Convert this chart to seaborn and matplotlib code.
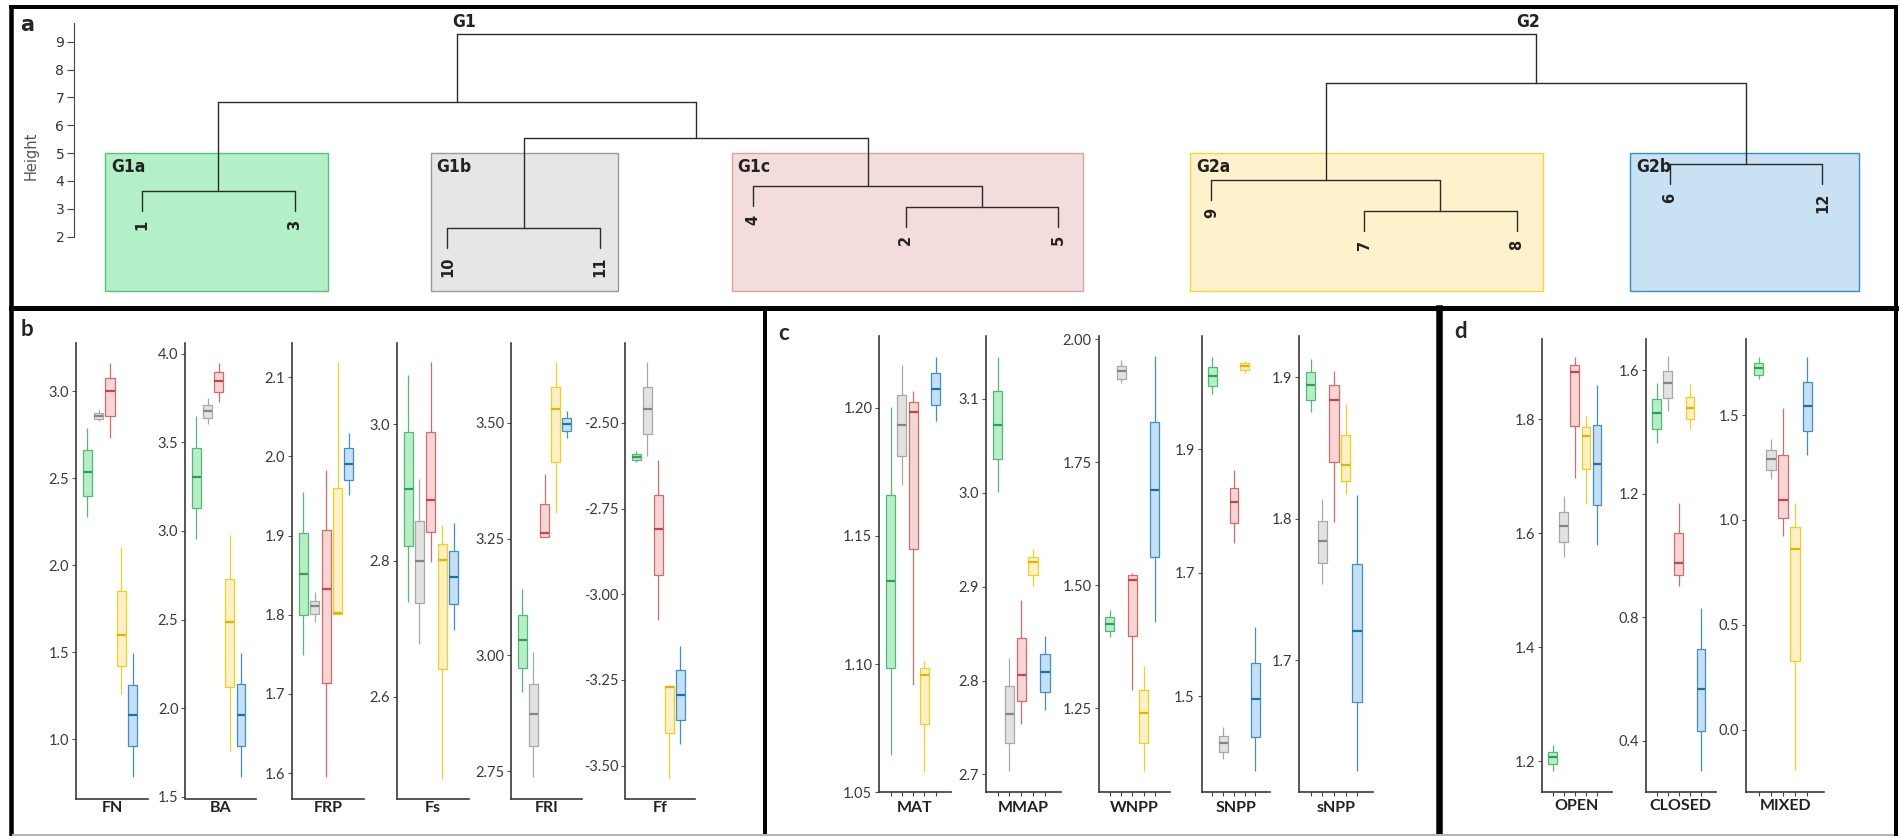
import numpy as np
import pandas as pd
import seaborn as sns
import matplotlib.pyplot as plt
from matplotlib.lines import Line2D
from matplotlib.patches import Rectangle
from matplotlib.ticker import FormatStrFormatter

# figure size in pixels (dpi 100)
W, H = 1901, 836

### Data ###

GROUPS = ['G1a', 'G1b', 'G1c', 'G2a', 'G2b']

# dendrogram: leaf order on the x axis and merges (left, right, height)
LEAF_ORDER = [1, 3, 10, 11, 4, 2, 5, 9, 7, 8, 6, 12]
MERGES = {
    'A': (1, 3, 3.64),
    'B': (10, 11, 2.31),
    'C1': (2, 5, 3.08),
    'C': (4, 'C1', 3.82),
    'BC': ('B', 'C', 5.56),
    'G1': ('A', 'BC', 6.82),
    'D1': (7, 8, 2.91),
    'D': (9, 'D1', 4.04),
    'E': (6, 12, 4.60),
    'G2': ('D', 'E', 7.53),
    'root': ('G1', 'G2', 9.29),
}
LEAF_HANG = 0.72
CLUSTER_LEAVES = [[1, 3], [10, 11], [4, 2, 5], [9, 7, 8], [6, 12]]

# five-number summaries per group (min, q1, median, q3, max), order = GROUPS
FN = [[2.275, 2.40, 2.536, 2.66, 2.79],
      [2.827, 2.843, 2.86, 2.876, 2.896],
      [2.733, 2.86, 3.0, 3.079, 3.163],
      [1.261, 1.422, 1.597, 1.851, 2.104],
      [0.782, 0.961, 1.14, 1.312, 1.495]]
BA = [[2.953, 3.128, 3.302, 3.470, 3.647],
      [3.605, 3.637, 3.676, 3.709, 3.749],
      [3.728, 3.782, 3.848, 3.894, 3.948],
      [1.757, 2.117, 2.484, 2.731, 2.976],
      [1.61, 1.786, 1.961, 2.137, 2.31]]
FRP = [[1.749, 1.80, 1.851, 1.903, 1.955],
       [1.791, 1.801, 1.811, 1.818, 1.829],
       [1.595, 1.714, 1.833, 1.907, 1.983],
       [1.801, 1.801, 1.802, 1.96, 2.119],
       [1.951, 1.97, 1.99, 2.01, 2.03]]
FS = [[2.739, 2.8215, 2.906, 2.9885, 3.0725],
      [2.6785, 2.7385, 2.80, 2.859, 2.92],
      [2.7985, 2.842, 2.8885, 2.9885, 3.091],
      [2.48, 2.641, 2.8015, 2.8245, 2.8525],
      [2.6985, 2.737, 2.7765, 2.815, 2.855]]
FRI = [[2.92, 2.973, 3.032, 3.086, 3.142],
       [2.7375, 2.803, 2.874, 2.938, 3.007],
       [3.255, 3.255, 3.2625, 3.325, 3.39],
       [3.305, 3.415, 3.5295, 3.578, 3.632],
       [3.468, 3.482, 3.4985, 3.51, 3.526]]
FF = [[-2.615, -2.607, -2.599, -2.591, -2.582],
      [-2.597, -2.532, -2.46, -2.394, -2.323],
      [-3.074, -2.945, -2.81, -2.709, -2.607],
      [-3.535, -3.406, -3.271, -3.268, -3.264],
      [-3.436, -3.366, -3.293, -3.221, -3.151]]
MAT = [[1.0647, 1.0983, 1.1323, 1.166, 1.2004],
       [1.1697, 1.1812, 1.1932, 1.205, 1.2168],
       [1.0917, 1.1448, 1.1985, 1.2024, 1.2064],
       [1.058, 1.0767, 1.0958, 1.0983, 1.1011],
       [1.1948, 1.2009, 1.2072, 1.2135, 1.2199]]
MMAP = [[3.0005, 3.0359, 3.072, 3.1084, 3.1448],
        [2.7036, 2.7332, 2.7645, 2.7944, 2.8242],
        [2.7532, 2.778, 2.8056, 2.8454, 2.8858],
        [2.9004, 2.9128, 2.9259, 2.9313, 2.9397],
        [2.7685, 2.7874, 2.8086, 2.8279, 2.8479]]
WNPP = [[1.3943, 1.4075, 1.421, 1.436, 1.45],
        [1.911, 1.92, 1.935, 1.9456, 1.958],
        [1.287, 1.396, 1.5115, 1.52, 1.5255],
        [1.122, 1.18, 1.241, 1.2875, 1.335],
        [1.4243, 1.558, 1.694, 1.831, 1.967]]
SNPP = [[1.989, 2.002, 2.019, 2.034, 2.049],
        [1.398, 1.41, 1.424, 1.436, 1.45],
        [1.749, 1.781, 1.8146, 1.838, 1.866],
        [2.024, 2.029, 2.035, 2.04, 2.044],
        [1.378, 1.434, 1.4956, 1.553, 1.6115]]
SNPP_S = [[1.8752, 1.8836, 1.8945, 1.9034, 1.9125],
          [1.7542, 1.769, 1.784, 1.7987, 1.8138],
          [1.7975, 1.8403, 1.8841, 1.8942, 1.9039],
          [1.8172, 1.8264, 1.8379, 1.8588, 1.881],
          [1.6223, 1.6706, 1.7205, 1.7679, 1.8167]]
OPEN = [[1.1833, 1.1953, 1.2072, 1.2162, 1.2288],
        [1.559, 1.5842, 1.6124, 1.637, 1.6645],
        [1.6969, 1.7874, 1.8827, 1.8953, 1.909],
        [1.6508, 1.7125, 1.7712, 1.7862, 1.8048],
        [1.58, 1.649, 1.7209, 1.7898, 1.8605]]
CLOSED = [[1.3646, 1.4102, 1.4623, 1.5068, 1.56],
          [1.4701, 1.5101, 1.5589, 1.5978, 1.6455],
          [0.8995, 0.9372, 0.9772, 1.0738, 1.1704],
          [1.409, 1.4435, 1.479, 1.5145, 1.5545],
          [0.3023, 0.432, 0.5665, 0.6964, 0.83]]
MIXED = [[1.6697, 1.6926, 1.722, 1.7497, 1.779],
         [1.1948, 1.2389, 1.2895, 1.3352, 1.3874],
         [0.9255, 1.0087, 1.0952, 1.3107, 1.5326],
         [-0.1925, 0.3297, 0.8618, 0.9679, 1.0822],
         [1.309, 1.4233, 1.5424, 1.6567, 1.779]]

### Styling ###

sns.set_theme(style='ticks')
plt.rcParams['font.family'] = ['Lato', 'DejaVu Sans']

RECT_FILL = ['#b3f0c8', '#e6e6e6', '#f3dcdc', '#fdf2cc', '#c8e1f3']
RECT_EDGE = ['#5cbf7f', '#9a9a9a', '#d9a3a3', '#efd93a', '#3a8cc8']
RECT_PAD = [(0.24, 0.22), (0.11, 0.12), (0.14, 0.16), (0.14, 0.17), (0.26, 0.24)]
BOX_FILL = ['#b5f0c5', '#e2e2e2', '#f7d5d5', '#fdf0c4', '#c4e0f6']
BOX_EDGE = ['#55b878', '#a8a8a8', '#d46a6a', '#f0d020', '#3f8fcc']
BOX_MED = ['#2e9e5a', '#858585', '#c04848', '#e0b400', '#1f6faa']

fig = plt.figure(figsize=(W / 100, H / 100), dpi=100)


def px_axes(x0, x1, top, bottom):
    return fig.add_axes([x0 / W, 1 - bottom / H, (x1 - x0) / W, (bottom - top) / H])


def fig_line(x0, y0, x1, y1, width_px, color='black'):
    fig.add_artist(Line2D([x0 / W, x1 / W], [1 - y0 / H, 1 - y1 / H], transform=fig.transFigure,
                          lw=width_px * 0.72, color=color, solid_capstyle='projecting'))


### Panel a: dendrogram ###

ax_d = px_axes(74, 1885, 15, 300)
dfont = ['DejaVu Sans']
xpos = {leaf: i + 1 for i, leaf in enumerate(LEAF_ORDER)}
hpos = {}
for name, (left, right, h) in MERGES.items():
    for child in (left, right):
        bottom = h - LEAF_HANG if child in LEAF_ORDER else hpos[child]
        ax_d.plot([xpos[child], xpos[child]], [bottom, h], color='#2b2b2b', lw=1.0, zorder=3)
        if child in LEAF_ORDER:
            ax_d.text(xpos[child], bottom - 0.3, str(child), rotation=90, ha='center', va='top',
                      fontsize=10.5, fontweight='bold', color='#222222', family=dfont)
    ax_d.plot([xpos[left], xpos[right]], [h, h], color='#2b2b2b', lw=1.0, zorder=3)
    xpos[name] = (xpos[left] + xpos[right]) / 2
    hpos[name] = h

for leaves, g, fc, ec, (pl, pr) in zip(CLUSTER_LEAVES, GROUPS, RECT_FILL, RECT_EDGE, RECT_PAD):
    x0 = xpos[leaves[0]] - pl
    x1 = xpos[leaves[-1]] + pr
    ax_d.add_patch(Rectangle((x0, 0.05), x1 - x0, 4.95, facecolor=fc, edgecolor=ec, lw=1.0, zorder=1))
    ax_d.text(x0 + 0.04, 4.82, g, ha='left', va='top', fontsize=12.5, fontweight='bold',
              color='#222222', family=dfont, fontstretch='condensed', zorder=4)

root_h = MERGES['root'][2]
ax_d.text(xpos['G1'] - 0.03, root_h + 0.08, 'G1', ha='left', va='bottom', fontsize=12.5,
          fontweight='bold', color='#222222', family=dfont, fontstretch='condensed')
ax_d.text(xpos['G2'] + 0.03, root_h + 0.08, 'G2', ha='right', va='bottom', fontsize=12.5,
          fontweight='bold', color='#222222', family=dfont, fontstretch='condensed')

ax_d.set_xlim(0.556, 12.41)
ax_d.set_ylim(-0.272, 9.958)
ax_d.set_xticks([])
ax_d.set_yticks(range(2, 10))
ax_d.tick_params(axis='y', length=5, width=0.8, color='#444444', labelsize=10, labelcolor='#333333', pad=2)
for lab in ax_d.get_yticklabels():
    lab.set_family(dfont)
for side in ['top', 'right', 'bottom']:
    ax_d.spines[side].set_visible(False)
ax_d.spines['left'].set_bounds(2, 9.66)
ax_d.spines['left'].set_color('#444444')
ax_d.spines['left'].set_linewidth(0.8)
ax_d.patch.set_alpha(0)
ax_d.set_ylabel('Height', fontsize=10.5, color='#555555', family=dfont)
ax_d.yaxis.set_label_coords(-35 / 1811, (300 - 156) / 285)

### Panels b, c, d: box plots ###

# (label, stats, x0, x1, top, bottom, label y, ylim, ticks, fmt, category ticks)
panels = [
    ('FN', FN, 76, 148, 342.7, 798.5, 808, (0.66, 3.279), [1.0, 1.5, 2.0, 2.5, 3.0], '%.1f', False),
    ('BA', BA, 185.3, 256, 342.7, 798.5, 808, (1.49, 4.062), [1.5, 2.0, 2.5, 3.0, 3.5, 4.0], '%.1f', False),
    ('FRP', FRP, 292, 364.3, 342.7, 798.5, 808, (1.568, 2.1436), [1.6, 1.7, 1.8, 1.9, 2.0, 2.1], '%.1f', False),
    ('Fs', FS, 396.7, 469, 342.7, 798.5, 808, (2.451, 3.12), [2.6, 2.8, 3.0], '%.1f', False),
    ('FRI', FRI, 511, 582, 342.7, 798.5, 808, (2.691, 3.6726), [2.75, 3.00, 3.25, 3.50], '%.2f', False),
    ('Ff', FF, 625.3, 695.3, 342.7, 798.5, 808, (-3.596, -2.266), [-3.50, -3.25, -3.00, -2.75, -2.50], '%.2f', False),
    ('MAT', MAT, 879.3, 950.7, 335.9, 792.3, 808.5, (1.05, 1.228), [1.05, 1.10, 1.15, 1.20], '%.2f', True),
    ('MMAP', MMAP, 985.7, 1061, 335.9, 792.3, 808.5, (2.681, 3.167), [2.7, 2.8, 2.9, 3.0, 3.1], '%.1f', True),
    ('WNPP', WNPP, 1098.7, 1170, 335.9, 792.3, 808.5, (1.079, 2.007), [1.25, 1.50, 1.75, 2.00], '%.2f', True),
    ('SNPP', SNPP, 1201.7, 1270, 335.9, 792.3, 808.5, (1.344, 2.084), [1.5, 1.7, 1.9], '%.1f', True),
    ('sNPP', SNPP_S, 1299.3, 1372.7, 335.9, 792.3, 808.5, (1.607, 1.929), [1.7, 1.8, 1.9], '%.1f', True),
    ('OPEN', OPEN, 1541.7, 1612, 339.3, 792, 806.5, (1.146, 1.940), [1.2, 1.4, 1.6, 1.8], '%.1f', True),
    ('CLOSED', CLOSED, 1645.7, 1716, 339.3, 792, 806.5, (0.233, 1.701), [0.4, 0.8, 1.2, 1.6], '%.1f', True),
    ('MIXED', MIXED, 1746.3, 1824, 339.3, 792, 806.5, (-0.297, 1.861), [0.0, 0.5, 1.0, 1.5], '%.1f', True),
]

for label, stats, x0, x1, top, bottom, label_px, ylim, ticks, fmt, cat_ticks in panels:
    ax = px_axes(x0, x1, top, bottom)
    long_df = pd.DataFrame([(g, v) for g, row in zip(GROUPS, stats) for v in row],
                           columns=['group', 'value'])
    for g, fc, ec, mc in zip(GROUPS, BOX_FILL, BOX_EDGE, BOX_MED):
        sns.boxplot(data=long_df[long_df['group'] == g], x='group', y='value', order=GROUPS, ax=ax,
                    color=fc, linecolor=ec, linewidth=0.9, width=0.8, whis=np.inf, saturation=1,
                    showcaps=False, showfliers=False,
                    medianprops={'color': mc, 'linewidth': 1.6})
    ax.set_xlim(-1.0, 5.35)
    ax.set_ylim(*ylim)
    ax.set_yticks(ticks)
    ax.yaxis.set_major_formatter(FormatStrFormatter(fmt))
    ax.tick_params(axis='y', length=3, width=0.8, color='#555555', labelsize=10.5,
                   labelcolor='#3a3a3a', pad=2)
    if cat_ticks:
        ax.set_xticks(range(len(GROUPS)))
        ax.set_xticklabels([])
        ax.tick_params(axis='x', length=3, width=0.8, color='#444444')
    else:
        ax.set_xticks([])
    ax.set_xlabel('')
    ax.set_ylabel('')
    sns.despine(ax=ax)
    for side in ['left', 'bottom']:
        ax.spines[side].set_color('#3a3a3a')
        ax.spines[side].set_linewidth(1.2)
    ax.patch.set_alpha(0)
    label_y = -(label_px - bottom) / (bottom - top)
    ax.text(0.5, label_y, label, transform=ax.transAxes, ha='center', va='center',
            fontsize=11.5, fontweight='bold', color='#222222')

### Panel letters and frames ###

fig.text(27 / W, 1 - 25 / H, 'a', fontsize=15, fontweight='bold', ha='center', va='center',
         family=['DejaVu Sans'])
fig.text(27 / W, 1 - 330 / H, 'b', fontsize=16, fontweight='bold', ha='center', va='center')
fig.text(784 / W, 1 - 333.5 / H, 'c', fontsize=16, fontweight='bold', ha='center', va='center')
fig.text(1461 / W, 1 - 331.5 / H, 'd', fontsize=16, fontweight='bold', ha='center', va='center')

fig_line(10.5, 7, 1895.5, 7, 4)
fig_line(10.5, 307.5, 1895.5, 307.5, 5)
fig_line(10.5, 7, 10.5, 834, 4.5)
fig_line(1895.5, 7, 1895.5, 834, 4)
fig_line(765, 307.5, 765, 834, 4)
fig_line(1438.5, 307.5, 1438.5, 834, 6.5)
fig_line(13, 835, 1893, 835, 2, color='#b4b4b4')

fig.savefig('out.png', dpi=100)
